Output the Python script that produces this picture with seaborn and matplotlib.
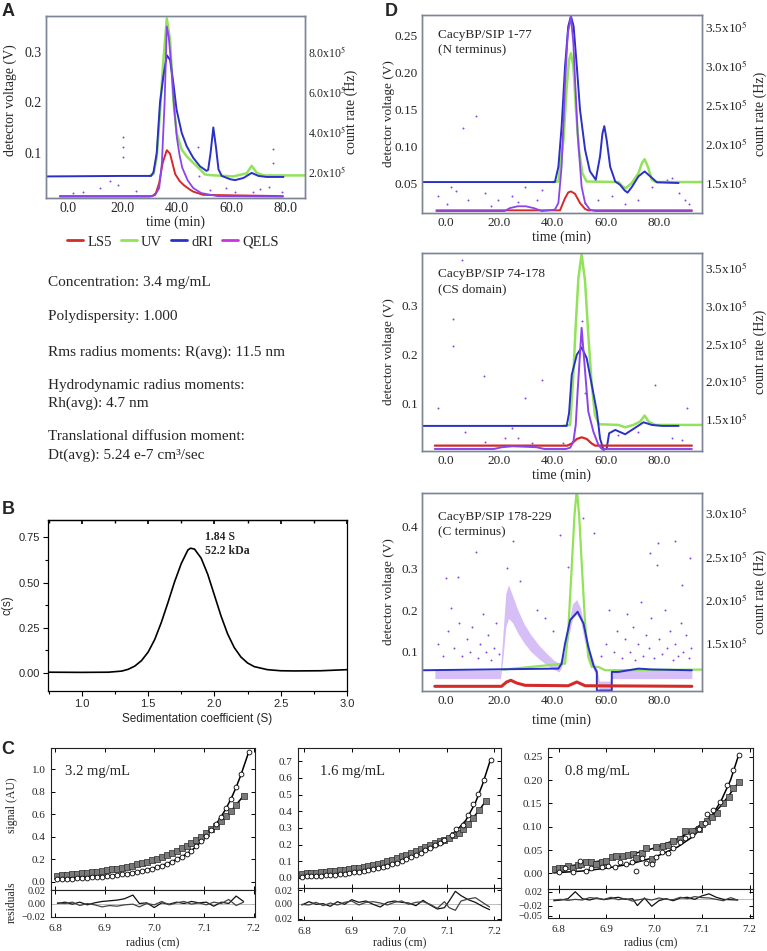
import matplotlib
matplotlib.use('Agg')
import matplotlib.pyplot as plt
import seaborn as sns
from matplotlib.lines import Line2D
from matplotlib.ticker import FixedLocator, FixedFormatter, MultipleLocator

# ---------------- DATA ----------------
# Panel A (SEC-MALS, time in min, detector voltage in V)
A_T_BLUE = [-8.1, 20, 30.5, 31.4, 32.6, 33.8, 35.0, 36.3, 37.5, 38.7, 39.9, 41.8, 43.6, 46.0, 48.5, 50.9,
            51.5, 52.4, 53.4, 54.4, 55.3, 56.5, 59.6, 61.4, 64.5, 67.5, 70.0, 73.0, 79.2]
A_V_BLUE = [0.053, 0.054, 0.054, 0.061, 0.0995, 0.199, 0.25, 0.293, 0.284, 0.238, 0.185, 0.139, 0.113, 0.09,
            0.073, 0.064, 0.066, 0.1, 0.15, 0.11, 0.067, 0.054, 0.0475, 0.0457, 0.05, 0.06, 0.054, 0.052, 0.052]
A_T_GREEN = [30.0, 31.4, 32.6, 33.8, 35.0, 36.3, 37.5, 38.7, 39.9, 41.8, 43.6, 46.0, 48.5, 50.3, 52.2,
             60.8, 65.7, 67.5, 69.4, 71.9, 87.1]
A_V_GREEN = [0.054, 0.058, 0.09, 0.18, 0.28, 0.366, 0.323, 0.205, 0.139, 0.106, 0.093, 0.08, 0.067, 0.057,
             0.0556, 0.053, 0.0593, 0.074, 0.06, 0.055, 0.055]
A_T_RED = [-3, 31, 32.3, 33.5, 34.8, 36.3, 37.5, 39.4, 41.0, 42.5, 44.5, 46.0, 49.7, 79]
A_V_RED = [0.014, 0.014, 0.02, 0.04, 0.08, 0.105, 0.098, 0.0575, 0.044, 0.036, 0.028, 0.023, 0.0165, 0.014]
A_T_QELS = [-3, 30, 32, 33.5, 34.5, 35.5, 36.3, 37.0, 38.0, 39.0, 40.0, 41.0, 42.0, 44.0, 46.0, 49.0, 55.0, 79]
A_V_QELS = [0.013, 0.013, 0.016, 0.03, 0.08, 0.2, 0.35, 0.33, 0.27, 0.19, 0.13, 0.095, 0.07, 0.045, 0.03,
            0.02, 0.014, 0.013]
A_T_QDOTS = [20.1, 20.1, 20.1, 15.4, 18.5, 47.9, 48.3, 75.5, 75.5, 74.0, 68.0, 11.8, 5.6, 52.2, 61.4, 78.5,
             2.0, 25.0, 58.0, 70.5]
A_V_QDOTS = [0.132, 0.112, 0.092, 0.043, 0.036, 0.112, 0.053, 0.108, 0.079, 0.033, 0.023, 0.03, 0.022, 0.027,
             0.023, 0.023, 0.02, 0.025, 0.03, 0.028]
A_LEGEND = ['LS5', 'UV', 'dRI', 'QELS']
A_TEXT = ['Concentration: 3.4 mg/mL', 'Polydispersity: 1.000', 'Rms radius moments: R(avg): 11.5 nm',
          'Hydrodynamic radius moments:', 'Rh(avg): 4.7 nm', 'Translational diffusion moment:',
          'Dt(avg): 5.24 e-7 cm\u00b3/sec']

# Panel B (c(s) distribution)
B_S = [0.75, 1.0, 1.2, 1.3, 1.35, 1.4, 1.45, 1.5, 1.55, 1.6, 1.65, 1.7, 1.75, 1.8, 1.82, 1.85, 1.9, 1.95,
       2.0, 2.05, 2.1, 2.15, 2.2, 2.25, 2.3, 2.4, 2.5, 2.6, 2.8, 3.0]
B_C = [0.004, 0.003, 0.004, 0.010, 0.020, 0.038, 0.068, 0.115, 0.185, 0.28, 0.39, 0.505, 0.605, 0.68, 0.69,
       0.685, 0.635, 0.545, 0.43, 0.315, 0.215, 0.14, 0.088, 0.055, 0.035, 0.018, 0.012, 0.011, 0.012, 0.018]

# Panel C (sedimentation equilibrium)
C1_R_CIRC = [6.805, 6.815, 6.825, 6.835, 6.845, 6.855, 6.865, 6.875, 6.885, 6.895, 6.905, 6.915, 6.925, 6.935,
             6.945, 6.955, 6.965, 6.975, 6.985, 6.995, 7.005, 7.015, 7.025, 7.035, 7.045, 7.055, 7.065, 7.075,
             7.085, 7.095, 7.105, 7.115, 7.125, 7.135, 7.145, 7.155, 7.165, 7.175, 7.19]
C1_Y_CIRC = [0.020, 0.022, 0.024, 0.027, 0.029, 0.032, 0.035, 0.038, 0.042, 0.046, 0.050, 0.055, 0.060, 0.066,
             0.072, 0.079, 0.087, 0.096, 0.106, 0.117, 0.130, 0.144, 0.160, 0.178, 0.198, 0.221, 0.247, 0.277,
             0.315, 0.36, 0.41, 0.46, 0.515, 0.58, 0.655, 0.74, 0.84, 0.955, 1.15]
C1_R_SQ = [6.805, 6.815, 6.825, 6.835, 6.845, 6.855, 6.865, 6.875, 6.885, 6.895, 6.905, 6.915, 6.925, 6.935,
           6.945, 6.955, 6.965, 6.975, 6.985, 6.995, 7.005, 7.015, 7.025, 7.035, 7.045, 7.055, 7.065, 7.075,
           7.085, 7.095, 7.105, 7.115, 7.125, 7.135, 7.145, 7.155, 7.165, 7.18]
C1_Y_SQ = [0.055, 0.058, 0.061, 0.065, 0.069, 0.073, 0.078, 0.083, 0.089, 0.095, 0.102, 0.109, 0.117, 0.125,
           0.134, 0.144, 0.154, 0.165, 0.177, 0.19, 0.204, 0.22, 0.237, 0.256, 0.276, 0.297, 0.32, 0.345,
           0.372, 0.40, 0.43, 0.465, 0.50, 0.54, 0.585, 0.63, 0.685, 0.765]
C1_RES_R = [6.805, 6.82, 6.835, 6.85, 6.865, 6.88, 6.895, 6.91, 6.925, 6.94, 6.957, 6.97, 6.985, 7.0, 7.015,
            7.03, 7.045, 7.06, 7.075, 7.09, 7.105, 7.12, 7.135, 7.15, 7.165, 7.18]
C1_RES1 = [0.000, 0.002, -0.001, 0.002, -0.002, 0.001, 0.003, 0.004, 0.005, 0.007, 0.0125, 0.0, 0.001, -0.006,
           0.001, -0.001, 0.002, 0.0, 0.003, 0.001, 0.002, -0.004, 0.002, 0.0, 0.011, 0.003]
C1_RES2 = [0.001, 0.0, 0.002, -0.003, 0.0, -0.002, -0.005, -0.003, -0.004, -0.002, -0.001, -0.005, 0.0, -0.002,
           0.003, -0.002, 0.001, 0.003, -0.001, 0.001, -0.002, 0.002, 0.0, 0.006, -0.003, 0.002]

C2_R_CIRC = [6.795, 6.805, 6.815, 6.825, 6.835, 6.845, 6.855, 6.865, 6.875, 6.885, 6.895, 6.905, 6.915, 6.925,
             6.935, 6.945, 6.955, 6.965, 6.975, 6.985, 6.995, 7.005, 7.015, 7.025, 7.035, 7.045, 7.055, 7.065,
             7.075, 7.085, 7.095, 7.11, 7.12, 7.135, 7.145, 7.155, 7.165, 7.178, 7.192]
C2_Y_CIRC = [0.008, 0.010, 0.011, 0.013, 0.014, 0.016, 0.018, 0.020, 0.023, 0.026, 0.029, 0.033, 0.037, 0.041,
             0.046, 0.051, 0.057, 0.064, 0.072, 0.081, 0.091, 0.100, 0.111, 0.123, 0.136, 0.150, 0.165, 0.180,
             0.196, 0.212, 0.230, 0.255, 0.295, 0.318, 0.375, 0.445, 0.505, 0.585, 0.710]
C2_R_FITC = [6.795, 6.85, 6.9, 6.95, 7.0, 7.05, 7.08, 7.1, 7.12, 7.14, 7.16, 7.175, 7.192]
C2_Y_FITC = [0.008, 0.017, 0.031, 0.054, 0.096, 0.157, 0.204, 0.238, 0.283, 0.345, 0.45, 0.56, 0.71]
C2_R_SQ = [6.795, 6.805, 6.815, 6.825, 6.835, 6.845, 6.855, 6.865, 6.875, 6.885, 6.895, 6.905, 6.915, 6.925,
           6.935, 6.945, 6.955, 6.965, 6.975, 6.985, 6.995, 7.005, 7.015, 7.025, 7.035, 7.045, 7.055, 7.065,
           7.075, 7.085, 7.095, 7.105, 7.115, 7.125, 7.135, 7.145, 7.155, 7.168, 7.182]
C2_Y_SQ = [0.026, 0.028, 0.030, 0.032, 0.034, 0.036, 0.039, 0.042, 0.045, 0.049, 0.053, 0.057, 0.062, 0.067,
           0.072, 0.078, 0.085, 0.092, 0.100, 0.109, 0.119, 0.129, 0.140, 0.151, 0.162, 0.174, 0.186, 0.197,
           0.207, 0.219, 0.230, 0.242, 0.256, 0.272, 0.292, 0.325, 0.360, 0.405, 0.462]
C2_RES_R = [6.795, 6.81, 6.825, 6.84, 6.855, 6.87, 6.885, 6.9, 6.915, 6.93, 6.945, 6.96, 6.975, 6.99, 7.005,
            7.02, 7.035, 7.05, 7.065, 7.08, 7.095, 7.105, 7.118, 7.13, 7.145, 7.16, 7.175, 7.19]
C2_RES1 = [-0.002, 0.003, -0.001, 0.000, -0.004, 0.003, -0.001, 0.006, 0.002, 0.004, -0.001, -0.005, 0.002,
           0.004, 0.002, 0.001, -0.003, 0.005, -0.002, -0.008, -0.006, 0.004, 0.0185, 0.012, 0.006, 0.002,
           -0.004, -0.009]
C2_RES2 = [-0.001, -0.002, 0.002, -0.003, 0.001, -0.002, 0.002, 0.004, -0.002, 0.002, 0.003, 0.001, -0.002,
           0.002, 0.004, -0.001, 0.002, 0.003, -0.001, -0.007, 0.003, -0.006, -0.01, 0.004, 0.007, 0.009,
           0.002, -0.005]

C3_R_CIRC = [6.8, 6.813, 6.83, 6.844, 6.858, 6.869, 6.89, 6.904, 6.918, 6.928, 6.942, 6.953, 6.963, 6.974,
             6.984, 6.995, 7.005, 7.016, 7.03, 7.04, 7.054, 7.065, 7.079, 7.093, 7.107, 7.11, 7.124, 7.138,
             7.152, 7.166, 7.177]
C3_Y_CIRC = [0.002, 0.011, 0.002, 0.027, 0.006, 0.011, 0.013, 0.016, 0.014, 0.025, 0.021, 0.025, 0.004, 0.034,
             0.023, 0.02, 0.036, 0.046, 0.044, 0.054, 0.068, 0.075, 0.082, 0.096, 0.107, 0.127, 0.136, 0.154,
             0.189, 0.221, 0.254]
C3_R_SQ = [6.792, 6.8, 6.809, 6.82, 6.83, 6.841, 6.848, 6.858, 6.869, 6.879, 6.89, 6.9, 6.911, 6.921, 6.935,
           6.946, 6.956, 6.963, 6.975, 6.984, 6.995, 7.005, 7.019, 7.03, 7.04, 7.054, 7.065, 7.079, 7.093, 7.1,
           7.11, 7.121, 7.131, 7.145, 7.156, 7.166, 7.177]
C3_Y_SQ = [0.009, 0.011, 0.011, 0.016, 0.012, 0.018, 0.019, 0.024, 0.024, 0.021, 0.025, 0.027, 0.036, 0.037,
           0.038, 0.039, 0.041, 0.032, 0.044, 0.055, 0.03, 0.057, 0.059, 0.061, 0.07, 0.074, 0.091, 0.091,
           0.096, 0.106, 0.113, 0.12, 0.129, 0.15, 0.164, 0.184, 0.196]
C3_R_FIT = [6.79, 6.85, 6.9, 6.95, 7.0, 7.05, 7.08, 7.1, 7.12, 7.14, 7.16, 7.177]
C3_Y_FITC = [0.001, 0.005, 0.011, 0.02, 0.034, 0.057, 0.078, 0.098, 0.122, 0.155, 0.2, 0.254]
C3_Y_FITS = [0.011, 0.02, 0.029, 0.04, 0.054, 0.074, 0.092, 0.106, 0.123, 0.145, 0.172, 0.196]
C3_RES_R = [6.79, 6.805, 6.82, 6.835, 6.85, 6.865, 6.88, 6.895, 6.91, 6.925, 6.94, 6.955, 6.965, 6.98, 6.995,
            7.01, 7.025, 7.04, 7.055, 7.07, 7.085, 7.1, 7.115, 7.13, 7.145, 7.16, 7.175]
C3_RES1 = [-0.006, -0.004, 0.0, 0.02, 0.0, -0.004, 0.002, -0.003, 0.001, 0.004, -0.002, 0.0, -0.02, 0.002,
           -0.022, -0.006, 0.0, -0.006, 0.002, 0.004, -0.002, 0.008, 0.014, 0.004, -0.002, -0.003, -0.004]
C3_RES2 = [-0.004, -0.002, -0.005, -0.002, -0.004, 0.003, 0.001, -0.002, 0.004, -0.003, 0.0, -0.007, -0.004,
           0.0, -0.004, 0.002, -0.002, -0.003, 0.004, 0.0, 0.006, 0.003, 0.002, -0.002, -0.006, 0.003, -0.004]
C_LABELS = ['3.2 mg/mL', '1.6 mg/mL', '0.8 mg/mL']

# Panel D (three constructs)
D_TITLES = [('CacyBP/SIP 1-77', '(N terminus)'), ('CacyBP/SIP 74-178', '(CS domain)'),
            ('CacyBP/SIP 178-229', '(C terminus)')]
D1_T_BLUE = [-8.9, 40.9, 42.2, 43.4, 44.7, 45.9, 46.9, 47.9, 49.1, 50.3, 52.2, 54.0, 56.2, 57.8, 58.7, 59.4,
             60.3, 61.6, 63.5, 65.3, 67.0, 68.1, 69.7, 72.2, 74.5, 76.6, 79.1, 87.2]
D1_V_BLUE = [0.0523, 0.0523, 0.073, 0.127, 0.209, 0.263, 0.277, 0.263, 0.209, 0.15, 0.096, 0.067, 0.0554,
             0.087, 0.118, 0.128, 0.109, 0.073, 0.053, 0.0486, 0.041, 0.038, 0.0455, 0.06, 0.0667, 0.06, 0.052,
             0.051]
D1_T_GREEN = [40.0, 42.2, 44.1, 45.3, 46.2, 46.9, 47.8, 48.8, 49.9, 51.2, 52.8, 64.7, 66.2, 67.5, 69.7, 72.2,
              73.5, 74.5, 75.7, 77.2, 78.7, 96.0]
D1_V_GREEN = [0.0523, 0.053, 0.109, 0.18, 0.2176, 0.2266, 0.2086, 0.15, 0.096, 0.064, 0.053, 0.0523, 0.0464,
              0.044, 0.051, 0.0644, 0.078, 0.0833, 0.0734, 0.0554, 0.0523, 0.0523]
D1_T_RED = [-3.5, 42.8, 44.7, 45.9, 46.9, 48.4, 50.3, 52.2, 53.4, 92.2]
D1_V_RED = [0.014, 0.014, 0.0306, 0.0383, 0.0396, 0.0365, 0.0239, 0.0158, 0.014, 0.014]
D1_T_QELS = [-3.5, 22.0, 24.0, 27.0, 30.0, 33.0, 36.0, 40.9, 42.2, 43.4, 44.7, 45.7, 46.9, 47.8, 49.4, 50.9,
             52.2, 54.0, 56.0, 92.2]
D1_V_QELS = [0.013, 0.013, 0.017, 0.0195, 0.0195, 0.017, 0.013, 0.015, 0.024, 0.073, 0.186, 0.253, 0.276,
             0.24, 0.118, 0.046, 0.024, 0.015, 0.013, 0.013]
D1_T_QDOTS = [6.6, 11.5, 2.1, -2.9, 4.0, 8.4, 14.6, 19.6, 24.7, 29.7, 34.0, 35.9, 52.2, 57.2, 62.2, 67.2,
              72.2, 77.2, 82.9, 84.7, 87.2, 89.7, 91.0, 0.5, 17.0, 27.0]
D1_V_QDOTS = [0.125, 0.142, 0.046, 0.033, 0.04, 0.028, 0.037, 0.028, 0.033, 0.046, 0.028, 0.042, 0.024, 0.028,
              0.033, 0.022, 0.028, 0.046, 0.055, 0.058, 0.037, 0.028, 0.022, 0.022, 0.02, 0.025]

D2_T_BLUE = [-8.9, 45.3, 46.2, 47.2, 49.1, 50.9, 52.8, 54.7, 56.6, 57.8, 59.1, 60.3, 61.2, 63.5, 67.2, 70.3,
             74.1, 77.2, 81.0, 87.2]
D2_V_BLUE = [0.0536, 0.0536, 0.08, 0.158, 0.199, 0.214, 0.192, 0.1376, 0.083, 0.028, 0.0044, 0.0078, 0.0385,
             0.0454, 0.0365, 0.0474, 0.061, 0.0556, 0.0536, 0.0536]
D2_T_GREEN = [44.0, 46.6, 47.8, 48.7, 49.7, 50.9, 52.2, 53.4, 54.7, 55.9, 57.4, 64.7, 67.2, 70.3, 72.8, 74.5,
              76.0, 78.5, 96.0]
D2_V_GREEN = [0.0536, 0.0556, 0.158, 0.26, 0.356, 0.405, 0.349, 0.24, 0.1376, 0.076, 0.057, 0.0556, 0.0508,
              0.0556, 0.0624, 0.0747, 0.0624, 0.0556, 0.0556]
D2_T_RED = [-4.1, 45.5, 47.2, 49.1, 50.9, 52.8, 54.7, 56.0, 92.2]
D2_V_RED = [0.0133, 0.0133, 0.0175, 0.0269, 0.0303, 0.0269, 0.0175, 0.0133, 0.0133]
D2_T_QELS = [-4.1, 18.0, 21.0, 25.0, 30.0, 34.0, 37.0, 45.0, 46.6, 47.8, 48.7, 49.4, 50.9, 52.2, 53.4, 55.3,
             57.2, 58.5, 92.2]
D2_V_QELS = [0.0064, 0.0064, 0.01, 0.012, 0.011, 0.01, 0.0064, 0.0064, 0.009, 0.0214, 0.0556, 0.124, 0.254,
             0.165, 0.083, 0.042, 0.0146, 0.0064, 0.0064]
D2_T_QDOTS = [2.75, 2.75, 5.9, 14.3, 35.9, 29.7, 24.7, 22.2, -2.9, 7.1, 14.6, 27.2, 32.2, 52.2, 50.9, 64.7,
              72.2, 78.5, 84.7, 90.4, 88.5, 58.4, 44.0]
D2_V_QDOTS = [0.273, 0.216, 0.392, 0.155, 0.148, 0.11, 0.049, 0.028, 0.09, 0.042, 0.021, 0.028, 0.018, 0.12,
              0.267, 0.035, 0.042, 0.138, 0.028, 0.09, 0.025, 0.015, 0.018]

D3_T_BLUE = [-8.9, 42.2, 43.4, 44.7, 45.9, 46.6, 49.4, 51.6, 53.4, 55.3, 56.6, 56.6, 62.2, 62.2, 64.7, 72.2,
             77.0, 92.2]
D3_V_BLUE = [0.056, 0.06, 0.072, 0.12, 0.155, 0.176, 0.196, 0.168, 0.112, 0.068, 0.052, 0.0075, 0.0075, 0.052,
             0.052, 0.06, 0.058, 0.056]
D3_T_GREEN = [21.5, 44.7, 45.9, 47.2, 48.2, 49.1, 50.0, 51.0, 52.2, 53.4, 54.7, 57.2, 59.7, 96.0]
D3_V_GREEN = [0.0576, 0.072, 0.152, 0.304, 0.424, 0.49, 0.424, 0.304, 0.168, 0.088, 0.064, 0.064, 0.056,
              0.0576]
D3_T_RED = [-4.1, 20.9, 22.8, 24.4, 26.5, 29.7, 45.9, 49.1, 52.2, 92.2]
D3_V_RED = [0.0176, 0.0176, 0.028, 0.032, 0.0256, 0.02, 0.019, 0.028, 0.019, 0.0176]
D3_T_QBAND = [-4.1, 20.5, 21.5, 22.5, 23.5, 25.0, 27.0, 29.5, 32.0, 35.0, 38.0, 40.5, 42.5, 44.5, 46.0, 47.5,
              49.0, 50.5, 52.0, 54.0, 55.5, 56.6, 57.5, 61.5, 62.3, 64.0, 92.2]
D3_V_QLOW = [0.036, 0.036, 0.09, 0.16, 0.18, 0.17, 0.145, 0.12, 0.1, 0.083, 0.068, 0.058, 0.052, 0.08, 0.135,
             0.18, 0.19, 0.175, 0.125, 0.08, 0.055, 0.04, 0.008, 0.008, 0.036, 0.036, 0.036]
D3_V_QHIGH = [0.056, 0.056, 0.15, 0.24, 0.26, 0.235, 0.2, 0.165, 0.14, 0.115, 0.095, 0.08, 0.072, 0.1, 0.165,
              0.215, 0.225, 0.205, 0.155, 0.105, 0.075, 0.06, 0.03, 0.03, 0.056, 0.056, 0.056]
D3_T_QDOTS = [0, 4.6, 11.5, 25.3, 45.7, 55.7, 76.6, 79.7, 86, 91.6, 42.8, 79.1, 51.5, 88.5,
              -3, -1, 1, 2, 3, 5, 6, 8, 9, 10, 12, 13, 14, 15, 16, 17, 18, 19, 20,
              58, 60, 61, 63, 64, 66, 67, 68, 69, 70, 71, 72, 73, 74, 75, 76, 77, 78, 80, 81, 82, 83, 84, 85,
              86, 87, 88, 89, 90, 91, 92, 34, 37, 40, 28, 23]
D3_V_QDOTS = [0.276, 0.28, 0.34, 0.364, 0.304, 0.384, 0.336, 0.36, 0.364, 0.324, 0.38, 0.308, 0.42, 0.26,
              0.12, 0.09, 0.15, 0.205, 0.11, 0.17, 0.09, 0.13, 0.1, 0.16, 0.085, 0.12, 0.19, 0.1, 0.14, 0.08,
              0.11, 0.17, 0.095,
              0.09, 0.12, 0.2, 0.1, 0.15, 0.085, 0.13, 0.19, 0.1, 0.16, 0.08, 0.12, 0.22, 0.09, 0.14, 0.11,
              0.18, 0.085, 0.13, 0.095, 0.2, 0.11, 0.15, 0.08, 0.12, 0.09, 0.17, 0.1, 0.14, 0.085, 0.11,
              0.2, 0.18, 0.15, 0.27, 0.3]

# ---------------- STYLE ----------------
sns.set_theme(style='ticks')
plt.rcParams['font.family'] = ['Liberation Serif', 'DejaVu Serif']
plt.rcParams['mathtext.fontset'] = 'stix'
plt.rcParams['axes.linewidth'] = 0.9

RED = '#d42a2a'
GREEN = '#92e25a'
BLUE = '#2a30c8'
QELS = '#8a45ea'
QELS_LEG = '#cc33dd'
FRAME = '#7d8595'
SANS = ['Liberation Sans', 'DejaVu Sans']

W, H = 767, 951
fig = plt.figure(figsize=(W / 100, H / 100), dpi=100)


def px(l, t, r, b):
    return [l / W, 1 - b / H, (r - l) / W, (b - t) / H]


def ftext(x, y, s, **kw):
    return fig.text(x / W, 1 - y / H, s, **kw)


def line(ax, x, y, color, lw=1.5, **kw):
    sns.lineplot(x=x, y=y, ax=ax, color=color, linewidth=lw, sort=False, estimator=None,
                 legend=False, **kw)


def dots(ax, x, y, color, s=2.5, **kw):
    sns.scatterplot(x=x, y=y, ax=ax, color=color, s=s, linewidth=0, legend=False, **kw)


def sec_axes(box, xlim, ylim, yticks, yfmt, rlim, rticks, fs_tick, fs_rtick):
    ax = fig.add_axes(px(*box))
    ax.set_xlim(*xlim)
    ax.set_ylim(*ylim)
    ax.set_xticks([0, 20, 40, 60, 80])
    ax.set_xticklabels(['0.0', '20.0', '40.0', '60.0', '80.0'])
    ax.set_yticks(yticks)
    ax.set_yticklabels([yfmt % v for v in yticks])
    ax.tick_params(length=0, labelsize=fs_tick, pad=3)
    ax.set_xlabel('')
    ax.set_ylabel('')
    ax2 = ax.twinx()
    ax2.set_ylim(*rlim)
    ax2.set_yticks(rticks)
    ax2.set_yticklabels(['%.1fx10$^5$' % (v / 1e5) for v in rticks])
    ax2.tick_params(length=0, labelsize=fs_rtick, pad=2)
    for a in (ax, ax2):
        for sp in a.spines.values():
            sp.set_color(FRAME)
            sp.set_linewidth(1.0)
    return ax


# ---------------- PANEL A ----------------
axA = sec_axes((46, 16, 305, 198), (-8.1, 87.1), (0.0103, 0.3707), [0.1, 0.2, 0.3], '%.1f',
               (0.635e5, 9.78e5), [2e5, 4e5, 6e5, 8e5], 10, 8.5)
line(axA, A_T_GREEN, A_V_GREEN, GREEN, 1.8)
line(axA, A_T_BLUE, A_V_BLUE, BLUE, 1.4)
line(axA, A_T_RED, A_V_RED, RED, 1.4)
line(axA, A_T_QELS, A_V_QELS, QELS, 1.3)
dots(axA, A_T_QDOTS, A_V_QDOTS, QELS, s=2)
ftext(175, 222, 'time (min)', ha='center', va='center', fontsize=10)
ftext(10, 100, 'detector voltage (V)', ha='center', va='center', rotation=90, fontsize=10)
ftext(351, 112, 'count rate (Hz)', ha='center', va='center', rotation=90, fontsize=10)

handles = [Line2D([], [], color=c, lw=2) for c in (RED, GREEN, BLUE, QELS_LEG)]
fig.legend(handles, A_LEGEND, loc='center', bbox_to_anchor=(173 / W, 1 - 242 / H), ncol=4,
           frameon=False, fontsize=10.5, handlelength=1.1, handletextpad=0.3, columnspacing=0.6)

text_y = [283, 317, 352, 386, 403, 437, 455]
for s, y in zip(A_TEXT, text_y):
    ftext(48, y, s, ha='left', va='center', fontsize=11)

# ---------------- PANEL B ----------------
axB = fig.add_axes(px(48, 520, 347, 691))
sns.lineplot(x=B_S, y=B_C, ax=axB, color='black', linewidth=1.2, sort=False, estimator=None, legend=False)
axB.set_xlim(0.745, 3.0)
axB.set_ylim(-0.1, 0.846)
axB.set_xticks([1.0, 1.5, 2.0, 2.5, 3.0])
axB.set_xticklabels(['1.0', '1.5', '2.0', '2.5', '3.0'], fontfamily=SANS)
axB.set_yticks([0.0, 0.25, 0.5, 0.75])
axB.set_yticklabels(['0.00', '0.25', '0.50', '0.75'], fontfamily=SANS)
axB.xaxis.set_minor_locator(MultipleLocator(0.25))
axB.yaxis.set_minor_locator(MultipleLocator(0.125))
axB.tick_params(which='major', length=3.5, width=0.8, labelsize=8, pad=2, direction='out', color='black')
axB.tick_params(which='minor', length=2, width=0.8, direction='out', color='black')
axB.set_xlabel('Sedimentation coefficient (S)', fontsize=8.5, fontfamily=SANS, labelpad=3)
axB.set_ylabel('c(s)', fontsize=8.5, fontfamily=SANS, labelpad=4)
for sp in axB.spines.values():
    sp.set_color('black')
    sp.set_linewidth(0.9)
secB = axB.secondary_xaxis('top')
secB.set_xticks([1.0, 1.5, 2.0, 2.5, 3.0])
secB.xaxis.set_minor_locator(MultipleLocator(0.25))
secB.tick_params(which='both', direction='in', labeltop=False, length=3, color='black')
secB.tick_params(which='minor', length=2)
ftext(205, 537, '1.84 S', ha='left', va='center', fontsize=8.5, fontweight='bold')
ftext(205, 551, '52.2 kDa', ha='left', va='center', fontsize=8.5, fontweight='bold')


# ---------------- PANEL C ----------------
def c_panel(main_box, res_box, xlim, ylim, yticks, yfmt, rlim, rticks, rlabels,
            cr, cy, sr, sy, fit_c, fit_s, res_r, r1, r2, label, lab_x):
    axm = fig.add_axes(px(*main_box))
    axr = fig.add_axes(px(*res_box))
    if fit_c is None:
        line(axm, cr, cy, 'black', 1.1)
    else:
        line(axm, fit_c[0], fit_c[1], 'black', 1.1)
    if fit_s is None:
        line(axm, sr, sy, 'black', 1.1)
    else:
        line(axm, fit_s[0], fit_s[1], 'black', 1.1)
    sns.scatterplot(x=sr, y=sy, ax=axm, marker='s', color='#7a7a7a', edgecolor='#2a2a2a', s=14,
                    linewidth=0.5, legend=False, zorder=3)
    sns.scatterplot(x=cr, y=cy, ax=axm, marker='o', color='white', edgecolor='black', s=12,
                    linewidth=0.6, legend=False, zorder=4)
    axm.set_xlim(*xlim)
    axm.set_ylim(*ylim)
    axm.set_yticks(yticks)
    axm.set_yticklabels([yfmt % v for v in yticks])
    axm.set_xticks([6.8, 6.9, 7.0, 7.1, 7.2])
    axm.tick_params(labelbottom=False, direction='in', top=True, right=True, length=3, width=0.7,
                    labelsize=8, pad=4, color='black')
    axm.set_xlabel('')
    axm.set_ylabel('')
    axr.axhline(0, color='#bdbdbd', lw=0.7, zorder=1)
    line(axr, res_r, r1, '#111111', 0.9)
    line(axr, res_r, r2, '#444444', 0.9)
    axr.set_xlim(*xlim)
    axr.set_ylim(*rlim)
    axr.yaxis.set_major_locator(FixedLocator(rticks))
    axr.yaxis.set_major_formatter(FixedFormatter(rlabels))
    axr.set_xticks([6.8, 6.9, 7.0, 7.1, 7.2])
    axr.set_xticklabels(['6.8', '6.9', '7.0', '7.1', '7.2'])
    axr.tick_params(direction='in', top=True, right=True, length=3, width=0.7, labelsize=7.5, pad=4,
                    color='black')
    axr.tick_params(axis='x', pad=5, labelsize=8)
    axr.set_xlabel('')
    axr.set_ylabel('')
    for a in (axm, axr):
        for sp in a.spines.values():
            sp.set_color('#222222')
            sp.set_linewidth(0.8)
    ftext(lab_x, 771, label, ha='left', va='center', fontsize=10.5)
    ftext((main_box[0] + main_box[2]) / 2, 942, 'radius (cm)', ha='center', va='center', fontsize=8.5)


c_panel((51, 748, 255, 890), (51, 890, 255, 917), (6.792, 7.203), (-0.074, 1.19),
        [0.0, 0.2, 0.4, 0.6, 0.8, 1.0], '%.1f', (-0.02, 0.02), [0.02, 0.0, -0.02],
        ['0.02', '0.00', '\u22120.02'], C1_R_CIRC, C1_Y_CIRC, C1_R_SQ, C1_Y_SQ, None, None,
        C1_RES_R, C1_RES1, C1_RES2, C_LABELS[0], 65)
c_panel((298, 748, 501, 888), (298, 888, 501, 920), (6.787, 7.214), (-0.06, 0.779),
        [0.0, 0.1, 0.2, 0.3, 0.4, 0.5, 0.6, 0.7], '%.1f', (-0.0245, 0.0235), [0.02, 0.0, -0.023],
        ['0.02', '0.00', '0.02'], C2_R_CIRC, C2_Y_CIRC, C2_R_SQ, C2_Y_SQ, (C2_R_FITC, C2_Y_FITC), None,
        C2_RES_R, C2_RES1, C2_RES2, C_LABELS[1], 320)
c_panel((548, 748, 753, 889), (548, 889, 753, 918), (6.778, 7.207), (-0.0336, 0.269),
        [0.0, 0.05, 0.1, 0.15, 0.2, 0.25], '%.2f', (-0.056, 0.028), [0.02, -0.02, -0.05],
        ['0.02', '\u22120.02', '\u22120.05'], C3_R_CIRC, C3_Y_CIRC, C3_R_SQ, C3_Y_SQ,
        (C3_R_FIT, C3_Y_FITC), (C3_R_FIT, C3_Y_FITS), C3_RES_R, C3_RES1, C3_RES2, C_LABELS[2], 565)
ftext(12, 805, 'signal (AU)', ha='center', va='center', rotation=90, fontsize=8.5)
ftext(12, 902, 'residuals', ha='center', va='center', rotation=90, fontsize=8.5)

# ---------------- PANEL D ----------------
d_specs = [
    ((422, 15, 702, 213), (0.0104, 0.2784), [0.05, 0.10, 0.15, 0.20, 0.25], '%.2f',
     (1.108e5, 3.65e5), [1.5e5, 2.0e5, 2.5e5, 3.0e5, 3.5e5], 35, 237),
    ((422, 253, 702, 451), (0.0023, 0.407), [0.1, 0.2, 0.3], '%.1f',
     (1.064e5, 3.7e5), [1.5e5, 2.0e5, 2.5e5, 3.0e5, 3.5e5], 274, 475),
    ((422, 493, 702, 691), (0.0064, 0.48), [0.1, 0.2, 0.3, 0.4], '%.1f',
     (0.943e5, 3.232e5), [1.5e5, 2.0e5, 2.5e5, 3.0e5], 517, 720),
]
d_axes = []
for i, (box, ylim, yt, yf, rlim, rt, ty, xly) in enumerate(d_specs):
    ax = sec_axes(box, (-8.9, 96.0), ylim, yt, yf, rlim, rt, 9.5, 9.5)
    d_axes.append(ax)
    ftext(box[0] + 16, ty, D_TITLES[i][0], ha='left', va='center', fontsize=9.5)
    ftext(box[0] + 16, ty + 15, D_TITLES[i][1], ha='left', va='center', fontsize=9.5)
    ftext((box[0] + box[2]) / 2, xly, 'time (min)', ha='center', va='center', fontsize=10)
    ftext(389, (box[1] + box[3]) / 2, 'detector voltage (V)', ha='center', va='center', rotation=90,
          fontsize=9.5)
    ftext(760, (box[1] + box[3]) / 2, 'count rate (Hz)', ha='center', va='center', rotation=90,
          fontsize=10)

ax = d_axes[0]
line(ax, D1_T_GREEN, D1_V_GREEN, GREEN, 1.8)
line(ax, D1_T_BLUE, D1_V_BLUE, BLUE, 1.4)
line(ax, D1_T_RED, D1_V_RED, RED, 1.4)
line(ax, D1_T_QELS, D1_V_QELS, QELS, 1.3)
dots(ax, D1_T_QDOTS, D1_V_QDOTS, QELS, s=2)

ax = d_axes[1]
line(ax, D2_T_GREEN, D2_V_GREEN, GREEN, 1.8)
line(ax, D2_T_BLUE, D2_V_BLUE, BLUE, 1.4)
line(ax, D2_T_RED, D2_V_RED, RED, 1.6)
line(ax, D2_T_QELS, D2_V_QELS, QELS, 1.4)
dots(ax, D2_T_QDOTS, D2_V_QDOTS, QELS, s=2)

ax = d_axes[2]
ax.fill_between(D3_T_QBAND, D3_V_QLOW, D3_V_QHIGH, color=QELS, alpha=0.35, linewidth=0)
dots(ax, D3_T_QDOTS, D3_V_QDOTS, QELS, s=2)
line(ax, D3_T_GREEN, D3_V_GREEN, GREEN, 1.6)
line(ax, D3_T_BLUE, D3_V_BLUE, BLUE, 1.4)
line(ax, D3_T_RED, D3_V_RED, RED, 2.2)

# ---------------- PANEL LETTERS ----------------
for s, x, y in (('A', 8, 12), ('B', 8, 510), ('C', 8, 750), ('D', 391, 12)):
    ftext(x, y, s, ha='center', va='center', fontsize=13, fontweight='bold', fontfamily=SANS)

fig.savefig('out.png', dpi=100)
